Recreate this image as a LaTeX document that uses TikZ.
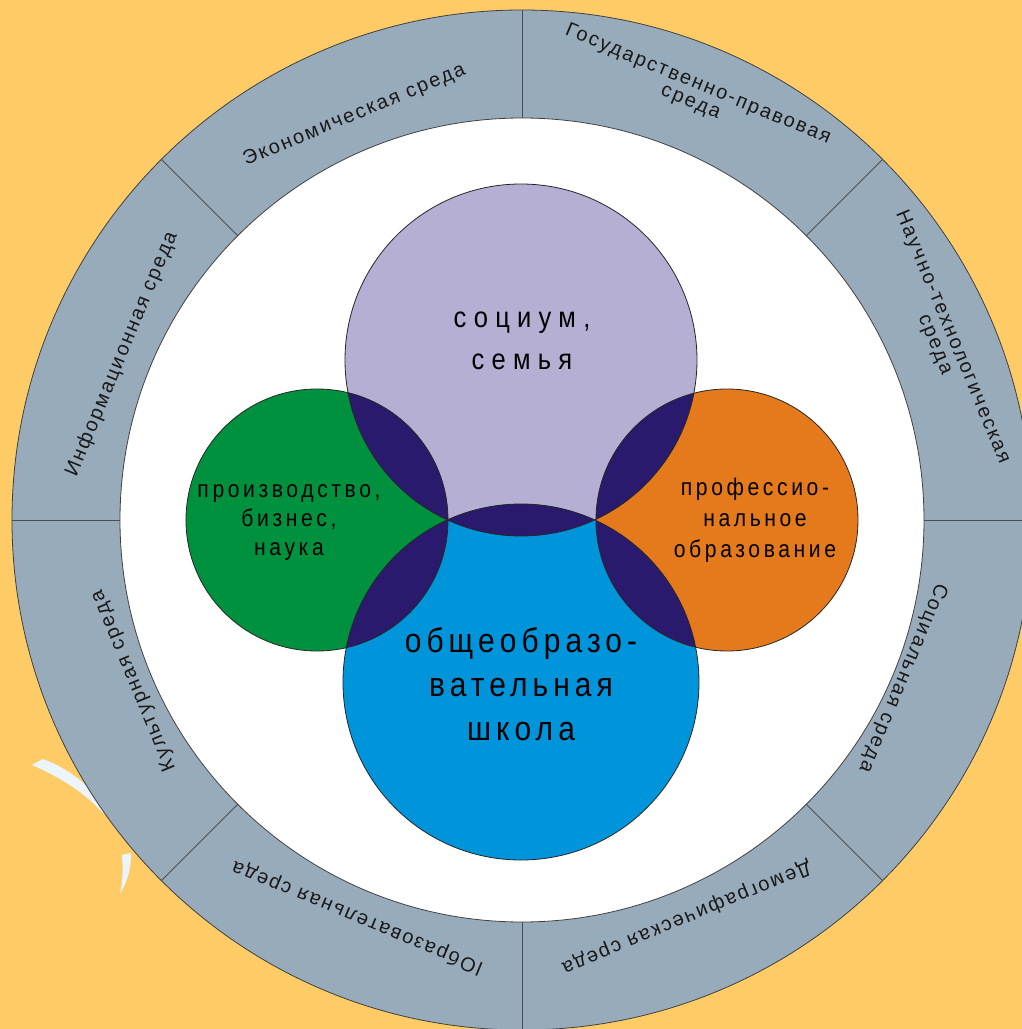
\documentclass[tikz,border=0pt]{standalone}
\usepackage{fontspec}
\setmainfont{Liberation Sans}
\newfontfamily\ringfont{Liberation Sans}[LetterSpace=10]
\newfontfamily\circfont{Liberation Sans}[LetterSpace=15, FakeStretch=0.88]
\newfontfamily\socfont{Liberation Sans}[LetterSpace=25, FakeStretch=0.88]
\definecolor{bgcol}{HTML}{FFCB66}
\definecolor{ringcol}{HTML}{98ABBB}
\definecolor{soccol}{HTML}{B6AFD4}
\definecolor{schcol}{HTML}{0095DA}
\definecolor{prodcol}{HTML}{00913F}
\definecolor{profcol}{HTML}{E47A1B}
\definecolor{overcol}{HTML}{2A1A6E}
\definecolor{flarecol}{HTML}{EDF5FC}

\begin{document}
\begin{tikzpicture}
  [
    x = 1pt, y = 1pt,
    ring label/.style = {font = \ringfont\fontsize{20}{19}\selectfont, align = center,
                         text = black!90, inner sep = 0pt},
    circ label/.style = {align = center, text = black, inner sep = 0pt},
    rim/.style = {draw = black!75, line width = 0.8pt}
  ]
  \useasboundingbox (-522,-509) rectangle (500,520);
  \clip (-522,-509) rectangle (500,520);
  \fill[bgcol] (-522,-509) rectangle (500,520);

  % white strokes, lower left
  \fill[flarecol] (-490,-245) -- (-479,-239) .. controls (-450,-250) and (-425,-270) .. (-408,-302)
    -- (-420,-292) .. controls (-440,-270) and (-465,-256) .. cycle;
  \fill[flarecol] (-400,-335) -- (-391,-333) .. controls (-391,-350) and (-395,-362) .. (-402,-374)
    .. controls (-399,-360) and (-399,-348) .. cycle;

  % outer ring
  \coordinate (O) at (0,0);
  \fill[ringcol] (O) circle (510);
  \draw[rim] (O) circle (510);
  \fill[white] (O) circle (402);
  \draw[rim] (O) circle (402);
  \foreach \ang in {0,45,...,315}
    \draw[black!70, line width = 0.8pt] (\ang:402) -- (\ang:510);

  \foreach \ang/\rad/\txt [count=\i] in {112.5/438/Экономическая среда,
      157.5/433/Информационная среда, 202.5/420/Культурная среда,
      247.5/430/lОбразовательная среда, 292.5/430/Демографическая среда,
      337.5/412/Социальная среда}
    \node[ring label, rotate = \ang-90] (env\i) at (\ang:\rad) {\txt};
  \node[ring label, rotate = -22.5] (envLaw) at (68:460) {Государственно-правовая\\среда};
  \node[ring label, rotate = -67.5] (envSci) at (23:458) {Научно-технологическая\\среда};

  % circles
  \coordinate (Soc)  at (-1,160);
  \coordinate (Sch)  at (-1,-162);
  \coordinate (Prod) at (-205,0);
  \coordinate (Prof) at (205,0);
  \fill[soccol]  (Soc)  circle (176);
  \fill[schcol]  (Sch)  circle (178);
  \fill[prodcol] (Prod) circle (131);
  \fill[profcol] (Prof) circle (131);
  \begin{scope}
    \clip (Soc) circle (176);
    \fill[overcol] (Prod) circle (131) (Prof) circle (131) (Sch) circle (178);
  \end{scope}
  \begin{scope}
    \clip (Sch) circle (178);
    \fill[overcol] (Prod) circle (131) (Prof) circle (131);
  \end{scope}
  \draw[rim, draw = black!85] (Soc) circle (176) (Sch) circle (178)
    (Prod) circle (131) (Prof) circle (131);

  \node[circ label, font = \socfont\fontsize{29}{42}\selectfont] (socT) at (0,179) {социум,\\семья};
  \node[circ label, font = \circfont\fontsize{34}{44}\selectfont] (schT) at (-1,-164) {общеобразо-\\вательная\\школа};
  \node[circ label, font = \circfont\fontsize{24}{29}\selectfont] (prodT) at (-233,-3) {производство,\\бизнес,\\наука};
  \node[circ label, font = \circfont\fontsize{24}{31}\selectfont] (profT) at (233,0) {профессио-\\нальное\\образование};
\end{tikzpicture}
\end{document}
